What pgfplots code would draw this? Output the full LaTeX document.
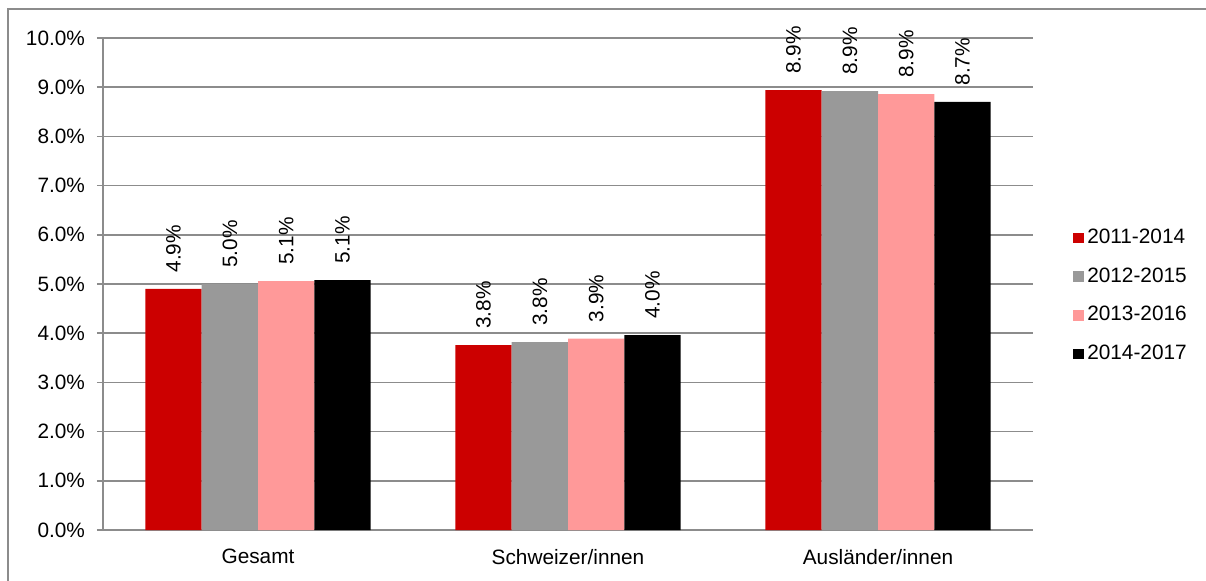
\documentclass[border=0pt]{standalone}
\usepackage{fontspec}
\setmainfont{Liberation Sans}
\usepackage{pgfplots}
\pgfplotsset{compat=1.18}

\definecolor{serA}{HTML}{CC0000}
\definecolor{serB}{HTML}{999999}
\definecolor{serC}{HTML}{FF9999}
\definecolor{serD}{HTML}{000000}
\definecolor{linegray}{HTML}{8C8C8C}

\newcommand{\lbl}{\fontsize{10.4}{12}\selectfont}

\begin{document}
\begin{tikzpicture}[x=1pt,y=1pt]
\useasboundingbox (0,0) rectangle (603,290);
\begin{scope}
\clip (0,0) rectangle (603,290);
\draw[linegray, line width=0.6pt] (4,-20) rectangle (640,285.5);
\end{scope}
\begin{axis}[
    at={(51.5pt,25pt)}, anchor=south west,
    scale only axis,
    width=465pt, height=246pt,
    font=\lbl,
    /pgf/number format/assume math mode=true,
    xmin=-0.5, xmax=2.5,
    ymin=0, ymax=10,
    ytick={0,1,...,10},
    yticklabel={\pgfmathprintnumber[fixed,fixed zerofill,precision=1]{\tick}\%},
    xtick={0,1,2},
    xticklabels={Gesamt, Schweizer/innen, Ausländer/innen},
    extra x ticks={-0.5,0.5,1.5,2.5},
    extra x tick labels={},
    extra x tick style={major tick length=3pt, grid=none},
    x tick label style={yshift=-3pt},
    y tick label style={xshift=-2.5pt},
    tick label style={font=\lbl},
    axis x line*=bottom,
    axis y line*=left,
    axis line style={linegray, line width=0.75pt},
    tick style={linegray, line width=0.75pt},
    tick align=outside,
    major tick length=3pt,
    xtick style={draw=none},
    ymajorgrids,
    grid style={linegray, line width=0.75pt},
    ybar=0pt,
    bar width=28.15pt,
    nodes near coords={\pgfmathprintnumber[fixed,fixed zerofill,precision=1]{\pgfplotspointmeta}\%},
    every node near coord/.append style={rotate=90, anchor=west, inner xsep=8pt, inner ysep=0pt, font=\lbl},
    every axis plot post/.append style={legend image code/.code={\fill[##1] (0pt,-2.6pt) rectangle (5.2pt,2.6pt);}},
    legend style={at={(1,0.5)}, anchor=west, xshift=20pt, yshift=-6pt,
        draw=none, fill=none, inner sep=0pt, row sep=9.9pt, font=\lbl,
        nodes={inner sep=0pt, text height=7.5pt, text depth=2pt}},
    legend cell align=left,
]
\addplot[fill=serA, draw=none] coordinates {(0,4.90) (1,3.76) (2,8.94)};
\addplot[fill=serB, draw=none] coordinates {(0,5.00) (1,3.82) (2,8.92)};
\addplot[fill=serC, draw=none] coordinates {(0,5.06) (1,3.89) (2,8.86)};
\addplot[fill=serD, draw=none] coordinates {(0,5.08) (1,3.96) (2,8.70)};
\legend{\,2011-2014, \,2012-2015, \,2013-2016, \,2014-2017}
\end{axis}
\end{tikzpicture}
\end{document}
